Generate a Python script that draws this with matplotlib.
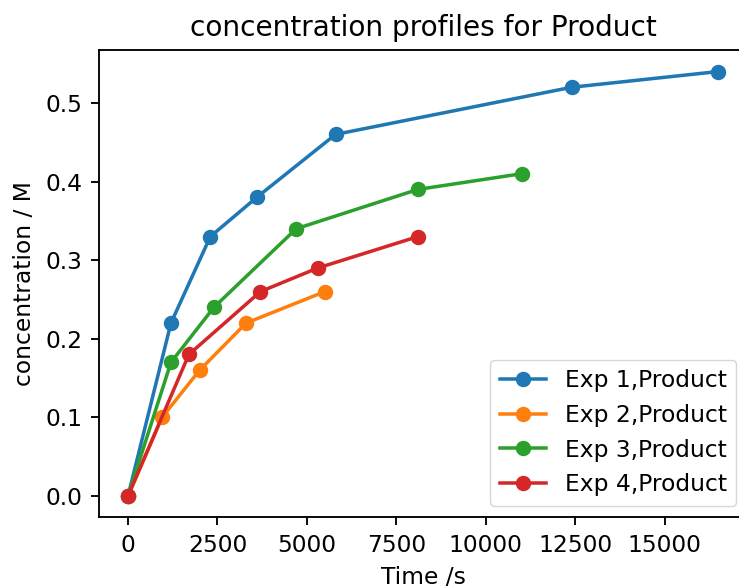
import matplotlib
matplotlib.use("Agg")
import matplotlib.pyplot as plt

# product concentration (M) vs time (s) for each experiment
t_exp1 = [0, 1200, 2300, 3600, 5800, 12400, 16500]
c_exp1 = [0.0, 0.22, 0.33, 0.38, 0.46, 0.52, 0.54]

t_exp2 = [0, 950, 2000, 3300, 5500]
c_exp2 = [0.0, 0.10, 0.16, 0.22, 0.26]

t_exp3 = [0, 1200, 2400, 4700, 8100, 11000]
c_exp3 = [0.0, 0.17, 0.24, 0.34, 0.39, 0.41]

t_exp4 = [0, 1700, 3700, 5300, 8100]
c_exp4 = [0.0, 0.18, 0.26, 0.29, 0.33]

labels = ['Exp 1,Product', 'Exp 2,Product', 'Exp 3,Product', 'Exp 4,Product']

# everything scaled up ~1.68x from the defaults
k = 1.68
plt.rcParams.update({
    'font.size': 10 * k,
    'lines.linewidth': 1.5 * k,
    'lines.markersize': 6 * k,
    'axes.linewidth': 0.8 * k,
    'axes.titlepad': 6 * k,
    'axes.labelpad': 4 * k,
    'xtick.major.size': 3.5 * k,
    'ytick.major.size': 3.5 * k,
    'xtick.major.width': 0.8 * k,
    'ytick.major.width': 0.8 * k,
    'xtick.major.pad': 3.5 * k,
    'ytick.major.pad': 3.5 * k,
})

fig = plt.figure(figsize=(7.39, 5.87), dpi=100)
ax = fig.add_axes([98.5/739, (587 - 517.2)/587, 649.5/739, 466.9/587])

ax.plot(t_exp1, c_exp1, marker='o', label=labels[0])
ax.plot(t_exp2, c_exp2, marker='o', label=labels[1])
ax.plot(t_exp3, c_exp3, marker='o', label=labels[2])
ax.plot(t_exp4, c_exp4, marker='o', label=labels[3])

ax.set_title('concentration profiles for Product', fontsize=12 * k)
ax.set_xlabel('Time /s')
ax.set_ylabel('concentration / M')
ax.legend(loc='lower right')

fig.savefig('out.png', dpi=100)
